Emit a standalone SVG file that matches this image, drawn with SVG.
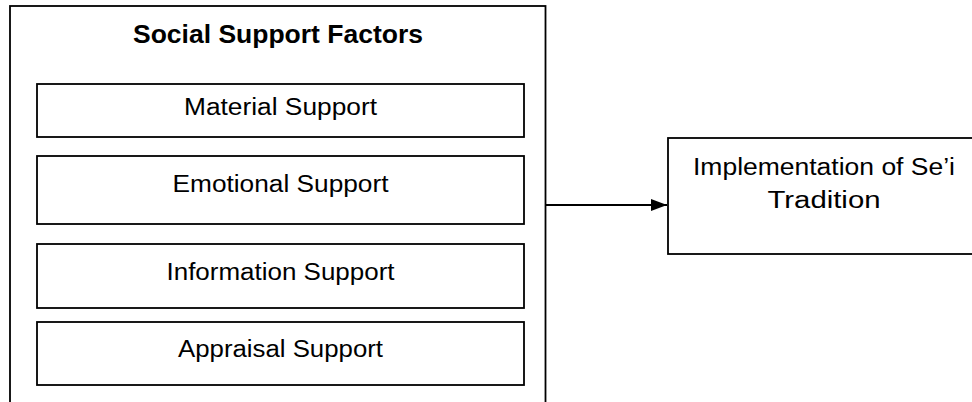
<svg xmlns="http://www.w3.org/2000/svg" width="972" height="402" viewBox="0 0 972 402">
<style>
.box{fill:#fff;stroke:#000;stroke-width:1.8}
.t{font-family:"Liberation Sans",Arial,sans-serif;font-size:23.5px;fill:#000;text-anchor:middle}
.b{font-weight:bold;font-size:25px}
</style>
<defs>
<marker id="ah" markerWidth="16" markerHeight="12" refX="16" refY="6" orient="auto" markerUnits="userSpaceOnUse">
<path d="M0,0 L16,6 L0,12 Z" fill="#000"/>
</marker>
</defs>
<rect width="972" height="402" fill="#fff"/>
<g id="social-support-factors">
<rect class="box" x="10" y="6" width="535.5" height="410" stroke-width="2"/>
<text class="t b" x="278" y="43" textLength="290" lengthAdjust="spacingAndGlyphs">Social Support Factors</text>
</g>
<g id="material-support">
<rect class="box" x="37" y="84" width="487" height="53"/>
<text class="t" x="280.5" y="115" textLength="193" lengthAdjust="spacingAndGlyphs">Material Support</text>
</g>
<g id="emotional-support">
<rect class="box" x="37" y="156" width="487" height="68"/>
<text class="t" x="280.5" y="192" textLength="216" lengthAdjust="spacingAndGlyphs">Emotional Support</text>
</g>
<g id="information-support">
<rect class="box" x="37" y="244" width="487" height="64"/>
<text class="t" x="280.5" y="280" textLength="228" lengthAdjust="spacingAndGlyphs">Information Support</text>
</g>
<g id="appraisal-support">
<rect class="box" x="37" y="322" width="487" height="63"/>
<text class="t" x="280.5" y="357" textLength="205" lengthAdjust="spacingAndGlyphs">Appraisal Support</text>
</g>
<g id="implementation">
<rect class="box" x="668" y="138" width="320" height="116"/>
<text class="t" x="824" y="175" textLength="262" lengthAdjust="spacingAndGlyphs">Implementation of Se’i</text>
<text class="t" x="824" y="208" textLength="113" lengthAdjust="spacingAndGlyphs">Tradition</text>
</g>
<g id="connectors">
<line x1="545.5" y1="205" x2="667" y2="205" stroke="#000" stroke-width="2" marker-end="url(#ah)"/>
</g>
</svg>
